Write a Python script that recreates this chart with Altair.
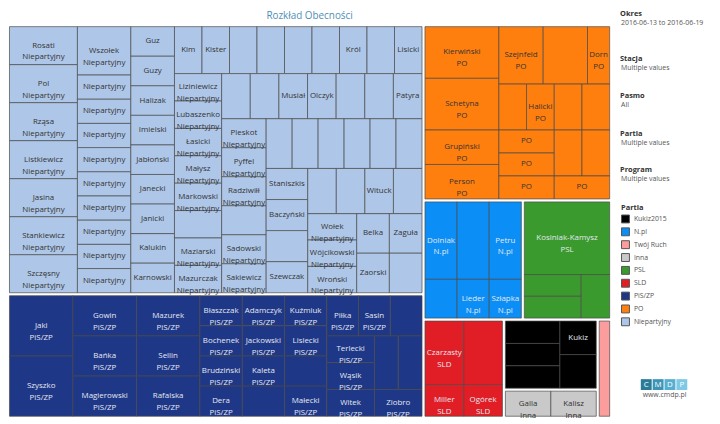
import altair as alt
import pandas as pd

# ---------------- data ----------------
party_order = ["Kukiz2015", "N.pl", "Twój Ruch", "Inna", "PSL", "SLD", "PiS/ZP", "PO", "Niepartyjny"]
party_colors = ["#000000", "#0b8ef6", "#fc9d9d", "#c9c9c9", "#3a9a2d", "#e11d25", "#1f3787", "#ff7f0e", "#aec7e8"]

niep_labels = [
    "Rosati\nNiepartyjny", "Pol\nNiepartyjny", "Rząsa\nNiepartyjny", "Listkiewicz\nNiepartyjny",
    "Jasina\nNiepartyjny", "Stankiewicz\nNiepartyjny", "Szczęsny\nNiepartyjny",
    "Wszołek\nNiepartyjny", "Niepartyjny", "Niepartyjny", "Niepartyjny", "Niepartyjny",
    "Niepartyjny", "Niepartyjny", "Niepartyjny", "Niepartyjny", "Niepartyjny",
    "Guz", "Guzy", "Halizak", "Imielski", "Jabłoński", "Janecki", "Janicki", "Kalukin", "Karnowski",
    "Kim", "Kister", "", "", "", "", "Król", "", "Lisicki",
    "Liziniewicz\nNiepartyjny", "Lubaszenko\nNiepartyjny", "Łasicki\nNiepartyjny", "Małysz\nNiepartyjny",
    "Markowski\nNiepartyjny", "", "Maziarski\nNiepartyjny", "Mazurczak\nNiepartyjny",
    "", "", "Musiał", "Olczyk", "", "", "Patyra",
    "Pleskot\nNiepartyjny", "Pyffel\nNiepartyjny", "Radziwiłł\nNiepartyjny", "",
    "Sadowski\nNiepartyjny", "Sakiewicz\nNiepartyjny",
    "", "", "", "", "", "",
    "Staniszkis", "Baczyński", "", "Szewczak",
    "", "", "Wituck", "",
    "Wołek\nNiepartyjny", "Wójcikowski\nNiepartyjny", "Wroński\nNiepartyjny",
    "Belka", "Zaguła",
    "Zaorski", "",
]
niep_values = [
    2, 2, 2, 2, 2, 2, 2,
    2, 1, 1, 1, 1, 1, 1, 1, 1, 1,
    1, 1, 1, 1, 1, 1, 1, 1, 1,
    1, 1, 1, 1, 1, 1, 1, 1, 1,
    1, 1, 1, 1, 1, 1, 1, 1,
    1, 1, 1, 1, 1, 1, 1,
    1, 1, 1, 1, 1, 1,
    1, 1, 1, 1, 1, 1,
    1, 1, 1, 1,
    1, 1, 1, 1,
    1, 1, 1,
    1, 1,
    1, 1,
]

pis_labels = [
    "Jaki\nPiS/ZP", "Szyszko\nPiS/ZP", "Gowin\nPiS/ZP", "Bańka\nPiS/ZP", "Magierowski\nPiS/ZP",
    "Mazurek\nPiS/ZP", "Sellin\nPiS/ZP", "Rafalska\nPiS/ZP",
    "Błaszczak\nPiS/ZP", "Bochenek\nPiS/ZP", "Brudziński\nPiS/ZP", "Dera\nPiS/ZP",
    "Adamczyk\nPiS/ZP", "Jackowski\nPiS/ZP", "Kaleta\nPiS/ZP", "",
    "Kuźmiuk\nPiS/ZP", "Lisiecki\nPiS/ZP", "", "Małecki\nPiS/ZP",
    "Piłka\nPiS/ZP", "Sasin\nPiS/ZP", "",
    "Terlecki\nPiS/ZP", "Wąsik\nPiS/ZP", "Witek\nPiS/ZP",
    "", "", "Ziobro\nPiS/ZP",
]
pis_values = [3, 3, 2, 2, 2, 2, 2, 2,
              1, 1, 1, 1, 1, 1, 1, 1, 1, 1, 1, 1, 1, 1, 1, 1, 1, 1, 1, 1, 1]

po_labels = ["Kierwiński\nPO", "Schetyna\nPO", "Grupiński\nPO", "Person\nPO", "Szejnfeld\nPO", "",
             "Dorn\nPO", "", "Halicki\nPO", "", "", "PO", "PO", "PO", "", "", "PO"]
po_values = [3, 3, 2, 2, 2, 2, 1, 1, 1, 1, 1, 1, 1, 1, 1, 1, 1]

npl_labels = ["Dolniak\nN.pl", "", "Petru\nN.pl", "", "Lieder\nN.pl", "Szłapka\nN.pl"]
npl_values = [2, 2, 2, 1, 1, 1]

psl_labels = ["Kosiniak-Kamysz\nPSL", "", "", ""]
psl_values = [5, 1, 1, 1]

sld_labels = ["Czarzasty\nSLD", "", "Miller\nSLD", "Ogórek\nSLD"]
sld_values = [2, 2, 1, 1]

kukiz_labels = ["", "", "", "Kukiz", ""]
kukiz_values = [1, 1, 1, 1, 1]

inna_labels = ["Galla\nInna", "Kalisz\nInna"]
inna_values = [1, 1]

tr_labels = [""]
tr_values = [1]

groups = [
    ("Niepartyjny", niep_labels, niep_values, "dark"),
    ("PiS/ZP", pis_labels, pis_values, "light"),
    ("PO", po_labels, po_values, "dark"),
    ("N.pl", npl_labels, npl_values, "light"),
    ("PSL", psl_labels, psl_values, "light"),
    ("SLD", sld_labels, sld_values, "light"),
    ("Kukiz2015", kukiz_labels, kukiz_values, "light"),
    ("Inna", inna_labels, inna_values, "dark"),
    ("Twój Ruch", tr_labels, tr_values, "dark"),
]

filter_titles = ["Okres", "Stacja", "Pasmo", "Partia", "Program"]
filter_values = ["2016-06-13 to 2016-06-19", "Multiple values", "All", "Multiple values", "Multiple values"]

# ---------------- layout (squarified treemap, golden-ratio target) ----------------
W, H = 712, 416
RATIO = 1.628


def squarify(vals, x0, y0, x1, y1, ratio=RATIO):
    out = [None] * len(vals)
    n = len(vals)
    value = float(sum(vals))
    i0 = i1 = 0
    while i0 < n:
        dx, dy = x1 - x0, y1 - y0
        s = vals[i1]
        i1 += 1
        lo = hi = s
        alpha = max(dy / dx, dx / dy) / (value * ratio)
        beta = s * s * alpha
        best = max(hi / beta, beta / lo)
        while i1 < n:
            v = vals[i1]
            s2 = s + v
            lo2, hi2 = min(lo, v), max(hi, v)
            beta = s2 * s2 * alpha
            r = max(hi2 / beta, beta / lo2)
            if r > best:
                break
            s, lo, hi, best = s2, lo2, hi2, r
            i1 += 1
        if dx < dy:
            yb = y0 + dy * s / value
            xx = x0
            for i in range(i0, i1):
                w = dx * vals[i] / s
                out[i] = (xx, y0, xx + w, yb)
                xx += w
            y0 = yb
        else:
            xb = x0 + dx * s / value
            yy = y0
            for i in range(i0, i1):
                h = dy * vals[i] / s
                out[i] = (x0, yy, xb, yy + h)
                yy += h
            x0 = xb
        value -= s
        i0 = i1
    return out


TM = (0.0, 15.0, 610.0, 412.0)
INSET = 1.5
group_rects = squarify([sum(g[2]) for g in groups], *TM)

rows = []
for (party, labels, values, tone), (gx0, gy0, gx1, gy1) in zip(groups, group_rects):
    leaves = squarify(values, gx0 + INSET, gy0 + INSET, gx1 - INSET, gy1 - INSET)
    for lab, (x0, y0, x1, y1) in zip(labels, leaves):
        rows.append(dict(party=party, label=lab, tone=tone, x0=x0, y0=y0, x1=x1, y1=y1,
                         cx=(x0 + x1) / 2, cy=(y0 + y1) / 2))
leaf_df = pd.DataFrame(rows)

sx = alt.Scale(domain=[0, W], nice=False, zero=False)
sy = alt.Scale(domain=[0, H], nice=False, zero=False, reverse=True)

rects = alt.Chart(leaf_df).mark_rect(stroke="#4a4a4a", strokeOpacity=0.7, strokeWidth=1).encode(
    x=alt.X("x0:Q", scale=sx, axis=None),
    x2="x1:Q",
    y=alt.Y("y0:Q", scale=sy, axis=None),
    y2="y1:Q",
    color=alt.Color(
        "party:N",
        scale=alt.Scale(domain=party_order, range=party_colors),
        legend=alt.Legend(
            title="Partia", orient="none", legendX=620, legendY=196,
            symbolType="square", symbolSize=64, symbolStrokeColor="#555555", symbolStrokeWidth=1,
            symbolOpacity=1,
            titleFont="Open Sans", titleFontSize=7.5, titleFontWeight="bold", titleColor="#333333",
            titlePadding=3, titleAnchor="start",
            labelFont="Open Sans", labelFontSize=7, labelColor="#555555", labelOffset=4,
            rowPadding=0, padding=0,
        ),
    ),
)


def label_layer(tone, colour):
    d = leaf_df[(leaf_df["tone"] == tone) & (leaf_df["label"] != "")]
    return alt.Chart(d).mark_text(
        font="Open Sans", fontSize=8, lineBreak="\n", lineHeight=12, color=colour,
        align="center", baseline="middle",
    ).encode(
        x=alt.X("cx:Q", scale=sx, axis=None),
        y=alt.Y("cy:Q", scale=sy, axis=None),
        text="label:N",
    )


dark_text = label_layer("dark", "#333333")
light_text = label_layer("light", "#e4e8f0")

title = alt.Chart(pd.DataFrame({"t": ["Rozkład Obecności"]})).mark_text(
    font="Open Sans", fontSize=10, color="#4f8fb5", align="center", baseline="middle"
).encode(x=alt.value(305), y=alt.value(6), text="t:N")

# filter panel (right side)
panel_rows = []
title_y = [4, 49, 87, 125, 162]
for t, v, ty in zip(filter_titles, filter_values, title_y):
    panel_rows.append(dict(text=t, px=619, py=ty, kind="title"))
    panel_rows.append(dict(text=v, px=620, py=ty + 9, kind="value"))
panel_df = pd.DataFrame(panel_rows)

panel_titles = alt.Chart(panel_df[panel_df.kind == "title"]).mark_text(
    font="Open Sans", fontSize=7.5, fontWeight="bold", color="#333333", align="left", baseline="middle"
).encode(x=alt.X("px:Q", scale=sx, axis=None), y=alt.Y("py:Q", scale=sy, axis=None), text="text:N")
panel_values = alt.Chart(panel_df[panel_df.kind == "value"]).mark_text(
    font="Open Sans", fontSize=7, color="#555555", align="left", baseline="middle"
).encode(x=alt.X("px:Q", scale=sx, axis=None), y=alt.Y("py:Q", scale=sy, axis=None), text="text:N")

# CMDP logo
logo_letters = ["C", "M", "D", "P"]
logo_colors = ["#2b7c99", "#3d94b5", "#56aed0", "#7dc9e6"]
logo_df = pd.DataFrame({
    "letter": logo_letters,
    "c": logo_colors,
    "lx0": [640 + 12 * i for i in range(4)],
    "lx1": [651 + 12 * i for i in range(4)],
    "ly0": [373] * 4,
    "ly1": [384] * 4,
})
logo_df["lcx"] = (logo_df.lx0 + logo_df.lx1) / 2
logo_df["lcy"] = (logo_df.ly0 + logo_df.ly1) / 2

logo_boxes = alt.Chart(logo_df).mark_rect().encode(
    x=alt.X("lx0:Q", scale=sx, axis=None), x2="lx1:Q",
    y=alt.Y("ly0:Q", scale=sy, axis=None), y2="ly1:Q",
    fill=alt.Fill("c:N", scale=None),
)
logo_text = alt.Chart(logo_df).mark_text(
    font="Open Sans", fontSize=8, color="white", align="center", baseline="middle"
).encode(x=alt.X("lcx:Q", scale=sx, axis=None), y=alt.Y("lcy:Q", scale=sy, axis=None), text="letter:N")
logo_url = alt.Chart(pd.DataFrame({"t": ["www.cmdp.pl"]})).mark_text(
    font="Open Sans", fontSize=7, color="#555555", align="center", baseline="middle"
).encode(x=alt.value(664), y=alt.value(389), text="t:N")

chart = alt.layer(
    rects, dark_text, light_text, title, panel_titles, panel_values, logo_boxes, logo_text, logo_url
).properties(
    width=W, height=H, padding=0, autosize=alt.AutoSizeParams(type="none")
).configure_view(strokeWidth=0)

chart.save("out.html", embed_options={"renderer": "svg", "actions": False})
